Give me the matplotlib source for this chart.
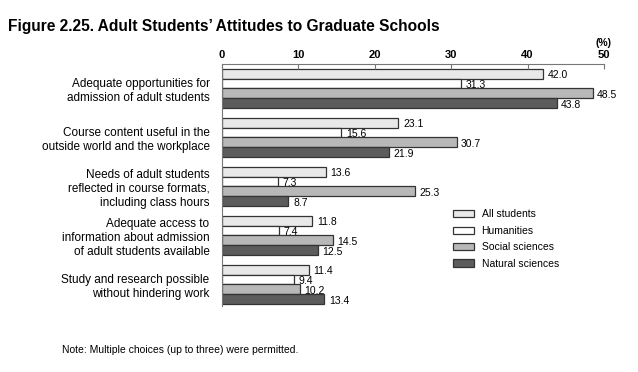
import matplotlib
matplotlib.use('Agg')
import matplotlib.pyplot as plt
import numpy as np

plt.rcParams['font.family'] = ['Liberation Sans', 'DejaVu Sans']

# Datos
categorias = [
    'Adequate opportunities for\nadmission of adult students',
    'Course content useful in the\noutside world and the workplace',
    'Needs of adult students\nreflected in course formats,\nincluding class hours',
    'Adequate access to\ninformation about admission\nof adult students available',
    'Study and research possible\nwithout hindering work',
]
series = ['All students', 'Humanities', 'Social sciences', 'Natural sciences']
all_students = [42.0, 23.1, 13.6, 11.8, 11.4]
humanities = [31.3, 15.6, 7.3, 7.4, 9.4]
social_sciences = [48.5, 30.7, 25.3, 14.5, 10.2]
natural_sciences = [43.8, 21.9, 8.7, 12.5, 13.4]
colores = ['#e8e8e8', '#ffffff', '#b8b8b8', '#5c5c5c']

fig = plt.figure(figsize=(6.38, 3.72), dpi=100)
ax = fig.add_axes([222/638, 1-306/372, (604-222)/638, (306-64)/372])

y = np.arange(len(categorias))
h = 0.2
valores = [all_students, humanities, social_sciences, natural_sciences]
for j, (vals, col, nombre) in enumerate(zip(valores, colores, series)):
    pos = y - 0.3 + j*h
    ax.barh(pos, vals, height=h, color=col, edgecolor='#333333', linewidth=0.9, label=nombre)
    for p, v in zip(pos, vals):
        ax.text(v + 0.6, p + 0.03, f'{v:.1f}', va='center', ha='left', fontsize=7.5)

ax.set_xlim(0, 50)
ax.set_ylim(4.44, -0.5)
ax.xaxis.tick_top()
ax.set_xticks([0, 10, 20, 30, 40, 50])
ax.tick_params(axis='x', direction='in', length=3.5, color='#777777', labelsize=8, pad=3)
for lab in ax.get_xticklabels():
    lab.set_fontweight('bold')
ax.set_yticks(y)
ax.set_yticklabels(categorias, fontsize=8.5, linespacing=1.2)
ax.tick_params(axis='y', length=0, pad=9)
for s in ['right', 'bottom']:
    ax.spines[s].set_visible(False)
ax.spines['top'].set_color('#777777')
ax.spines['left'].set_color('#777777')

fig.text(604/638, 1-43/372, '(%)', ha='center', va='center', fontsize=7.5, fontweight='bold')
fig.text(8/638, 1-26/372, 'Figure 2.25. Adult Students\u2019 Attitudes to Graduate Schools',
         fontsize=11.2, fontweight='bold', va='center', ha='left')
fig.text(62/638, 1-350/372, 'Note: Multiple choices (up to three) were permitted.',
         fontsize=7.5, va='center', ha='left')

leg = ax.legend(loc='upper left', bbox_to_anchor=(444/638, 1-200/372), bbox_transform=fig.transFigure,
                frameon=False, fontsize=7.5, handlelength=2.0, handleheight=0.7,
                labelspacing=0.62, handletextpad=0.7)

plt.savefig('out.png', dpi=100)
